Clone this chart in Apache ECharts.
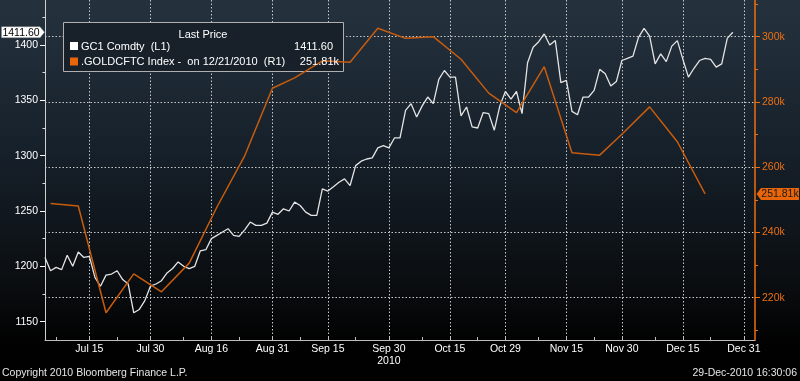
<!DOCTYPE html>
<html><head><meta charset="utf-8">
<script src="https://cdn.jsdelivr.net/npm/echarts@6/dist/echarts.min.js"></script>
<style>html,body{margin:0;padding:0;background:#000;}#c{width:800px;height:381px;}</style>
</head><body><div id="c"></div>
<script>
// ---- data ----
const dates = ['Jul 2','Jul 6','Jul 7','Jul 8','Jul 9','Jul 12','Jul 13','Jul 14','Jul 15','Jul 16','Jul 19','Jul 20','Jul 21','Jul 22','Jul 23','Jul 26','Jul 27','Jul 28','Jul 29','Jul 30',
'Aug 2','Aug 3','Aug 4','Aug 5','Aug 6','Aug 9','Aug 10','Aug 11','Aug 12','Aug 13','Aug 16','Aug 17','Aug 18','Aug 19','Aug 20','Aug 23','Aug 24','Aug 25','Aug 26','Aug 27','Aug 30','Aug 31',
'Sep 1','Sep 2','Sep 3','Sep 7','Sep 8','Sep 9','Sep 10','Sep 13','Sep 14','Sep 15','Sep 16','Sep 17','Sep 20','Sep 21','Sep 22','Sep 23','Sep 24','Sep 27','Sep 28','Sep 29','Sep 30',
'Oct 1','Oct 4','Oct 5','Oct 6','Oct 7','Oct 8','Oct 11','Oct 12','Oct 13','Oct 14','Oct 15','Oct 18','Oct 19','Oct 20','Oct 21','Oct 22','Oct 25','Oct 26','Oct 27','Oct 28','Oct 29',
'Nov 1','Nov 2','Nov 3','Nov 4','Nov 5','Nov 8','Nov 9','Nov 10','Nov 11','Nov 12','Nov 15','Nov 16','Nov 17','Nov 18','Nov 19','Nov 22','Nov 23','Nov 24','Nov 26','Nov 29','Nov 30',
'Dec 1','Dec 2','Dec 3','Dec 6','Dec 7','Dec 8','Dec 9','Dec 10','Dec 13','Dec 14','Dec 15','Dec 16','Dec 17','Dec 20','Dec 21','Dec 22','Dec 23','Dec 27','Dec 28','Dec 29','Dec 30','Dec 31',
'Jan 3','Jan 4'];

const goldPrice = [1208,1196,1199,1197,1210,1200,1213,1208,1209,1190,1182,1192,1193,1196,1188,1184,1158,1161,1169,1182,
1184,1187,1194,1198,1204,1200,1198,1200,1214,1215,1225,1228,1231,1234,1228,1227,1233,1240,1237,1237,1239,1249,
1247,1252,1250,1258,1255,1249,1246,1246,1270,1268,1272,1276,1279,1273,1291,1295,1297,1298,1307,1309,1307,
1316,1316,1341,1347,1335,1345,1353,1347,1369,1377,1371,1371,1336,1344,1326,1325,1339,1338,1323,1345,1358,
1351,1358,1338,1384,1398,1403,1410,1400,1404,1366,1368,1340,1337,1353,1353,1359,1378,1374,1363,1367,1386,
1388,1390,1407,1415,1408,1383,1392,1385,1399,1404,1387,1371,1379,1386,1388,1387,1380,1383,1406,1411.6];

const cftcDates = ['Jul 6','Jul 13','Jul 20','Jul 27','Aug 3','Aug 10','Aug 17','Aug 24','Aug 31','Sep 7','Sep 14','Sep 21','Sep 28',
'Oct 5','Oct 12','Oct 19','Oct 26','Nov 2','Nov 9','Nov 16','Nov 23','Nov 30','Dec 7','Dec 14','Dec 21'];
const cftcNetLong = [248.9,248.1,215.4,227.3,221.8,230.6,247.8,263.5,284.2,287.4,292.6,292.2,302.6,
299.5,300.0,293.1,282.7,276.7,290.8,264.4,263.7,270.1,278.5,267.8,251.81];

const leftTicks = [1150,1200,1250,1300,1350,1400];
const leftMinorTicks = [1175,1225,1275,1325,1375,1425];
const rightTicks = [220,240,260,280,300];
const rightMinorTicks = [210,230,250,270,290,310];
const xLabels = ['Jul 15','Jul 30','Aug 16','Aug 31','Sep 15','Sep 30','Oct 15','Oct 29','Nov 15','Nov 30','Dec 15','Dec 31'];
const xMinorTicks = ['Jul 7','Jul 22','Aug 9','Aug 23','Sep 8','Sep 22','Oct 8','Oct 22','Nov 8','Nov 22','Dec 8','Dec 22'];
const yearLabel = {date:'Sep 30', text:'2010'};

// ---- chart ----
const F = '"Liberation Sans", Arial, sans-serif';
const ORANGE_AX = '#ec6f12';
const ORANGE_LN = '#c85c0e';
const labelIdx = new Set(xLabels.map(d => dates.indexOf(d)));
const tickIdx = new Set(xLabels.concat(xMinorTicks).map(d => dates.indexOf(d)));
const goldData = dates.map((d, i) => i < goldPrice.length ? goldPrice[i] : null);
const cftcData = dates.map(d => { const k = cftcDates.indexOf(d); return k >= 0 ? cftcNetLong[k] : null; });
const L = {min: 1133.4, max: 1440.7};
const R = {min: 207.04, max: 311.25};

const chart = echarts.init(document.getElementById('c'));
chart.setOption({
  animation: false,
  backgroundColor: new echarts.graphic.LinearGradient(0, 0, 0, 1, [
    {offset: 0, color: '#25323e'}, {offset: 0.4, color: '#16202a'},
    {offset: 0.75, color: '#0a0d10'}, {offset: 0.89, color: '#020202'}, {offset: 1, color: '#000'}]),
  grid: {left: 45, right: 45, top: 0, bottom: 41},
  xAxis: {
    type: 'category', data: dates, boundaryGap: false,
    axisLine: {lineStyle: {color: '#bdbdbd', width: 1}},
    axisTick: {show: true, inside: true, length: 3, interval: i => tickIdx.has(i), lineStyle: {color: '#bdbdbd'}},
    axisLabel: {interval: i => labelIdx.has(i), color: '#fff', fontFamily: F, fontSize: 10.5, margin: 3, lineHeight: 12,
      formatter: v => v === yearLabel.date ? v + '\n' + yearLabel.text : v},
    splitLine: {show: true, interval: i => labelIdx.has(i), lineStyle: {color: '#c8c8c8', type: [1.5, 2], width: 1}}
  },
  yAxis: [
    {type: 'value', position: 'left', min: L.min, max: L.max,
      axisLine: {show: true, lineStyle: {color: '#d0d0d0'}},
      axisTick: {show: true, length: 5, customValues: leftTicks, lineStyle: {color: '#fff'}},
      axisLabel: {customValues: leftTicks, color: '#fff', fontFamily: F, fontSize: 10.5, margin: 7, formatter: v => String(v)},
      splitLine: {show: false}},
    {type: 'value', position: 'right', min: R.min, max: R.max,
      axisLine: {show: true, lineStyle: {color: ORANGE_AX, width: 1.5}},
      axisTick: {show: true, length: 5, customValues: rightTicks, lineStyle: {color: ORANGE_AX}},
      axisLabel: {customValues: rightTicks, color: ORANGE_AX, fontFamily: F, fontSize: 10.5, margin: 7, formatter: v => v + 'k'},
      splitLine: {show: true, lineStyle: {color: '#c8c8c8', type: [1.5, 2], width: 1}}},
    {type: 'value', position: 'left', min: L.min, max: L.max,
      axisLine: {show: false}, axisLabel: {show: false}, splitLine: {show: false},
      axisTick: {show: true, length: 2.5, customValues: leftMinorTicks, lineStyle: {color: '#ddd'}}},
    {type: 'value', position: 'right', min: R.min, max: R.max,
      axisLine: {show: false}, axisLabel: {show: false}, splitLine: {show: false},
      axisTick: {show: true, length: 3, customValues: rightMinorTicks, lineStyle: {color: ORANGE_AX}}}
  ],
  series: [
    {type: 'line', name: 'GC1 Comdty', yAxisIndex: 0, data: goldData, showSymbol: false, z: 3,
      lineStyle: {color: '#e4e4e4', width: 1.3}},
    {type: 'line', name: '.GOLDCFTC Index', yAxisIndex: 1, data: cftcData, connectNulls: true, showSymbol: false, z: 3,
      lineStyle: {color: ORANGE_LN, width: 1.5}}
  ]
});

const lastGold = goldPrice[goldPrice.length - 1];
const lastCftc = cftcNetLong[cftcNetLong.length - 1];
const goldTxt = lastGold.toFixed(2);
const cftcTxt = lastCftc.toFixed(2) + 'k';
const yG = chart.convertToPixel({yAxisIndex: 0}, lastGold);
const yC = chart.convertToPixel({yAxisIndex: 1}, lastCftc);
const font = '11px ' + F;
const txt = (text, x, y, align, fill, f) => ({type: 'text', z: 8, x: x, y: y,
  style: {text: text, fill: fill, font: f || font, align: align, verticalAlign: 'middle', textAlign: align, textVerticalAlign: 'middle'}});

chart.setOption({graphic: [
  {type: 'rect', z: 1, shape: {x: 63.5, y: 22.5, width: 280, height: 49}, style: {fill: '#18212a', stroke: '#b0b0b0', lineWidth: 1}},
  txt('Last Price', 203, 35, 'center', '#fff'),
  {type: 'rect', z: 5, shape: {x: 70, y: 42, width: 8, height: 8}, style: {fill: '#ffffff'}},
  txt('GC1 Comdty  (L1)', 81, 46.5, 'left', '#fff'),
  txt(goldTxt, 333, 46.5, 'right', '#fff'),
  {type: 'rect', z: 5, shape: {x: 70, y: 57.5, width: 8, height: 8}, style: {fill: '#e8650a'}},
  txt('.GOLDCFTC Index -  on 12/21/2010  (R1)', 81, 62, 'left', '#fff'),
  txt(cftcTxt, 339, 62, 'right', '#fff'),
  // last-price tags on axes
  {type: 'polygon', z: 6, shape: {points: [[1.5, yG - 5.5], [40, yG - 5.5], [44.5, yG], [40, yG + 5.5], [1.5, yG + 5.5]]},
    style: {fill: '#ffffff', stroke: '#888', lineWidth: 0.5}},
  txt(goldTxt, 21, yG + 0.5, 'center', '#000', '10.5px ' + F),
  {type: 'polygon', z: 6, shape: {points: [[756.5, yC], [761, yC - 6], [799, yC - 6], [799, yC + 6], [761, yC + 6]]},
    style: {fill: '#e8650a'}},
  txt(cftcTxt, 780, yC + 0.5, 'center', '#1a1a1a', '10.5px ' + F),
  txt('Copyright 2010 Bloomberg Finance L.P.', 2, 373.5, 'left', '#e6e6e6', '10.5px ' + F),
  txt('29-Dec-2010 16:30:06', 797, 373.5, 'right', '#e6e6e6', '10.5px ' + F)
]});
</script>
</body></html>
